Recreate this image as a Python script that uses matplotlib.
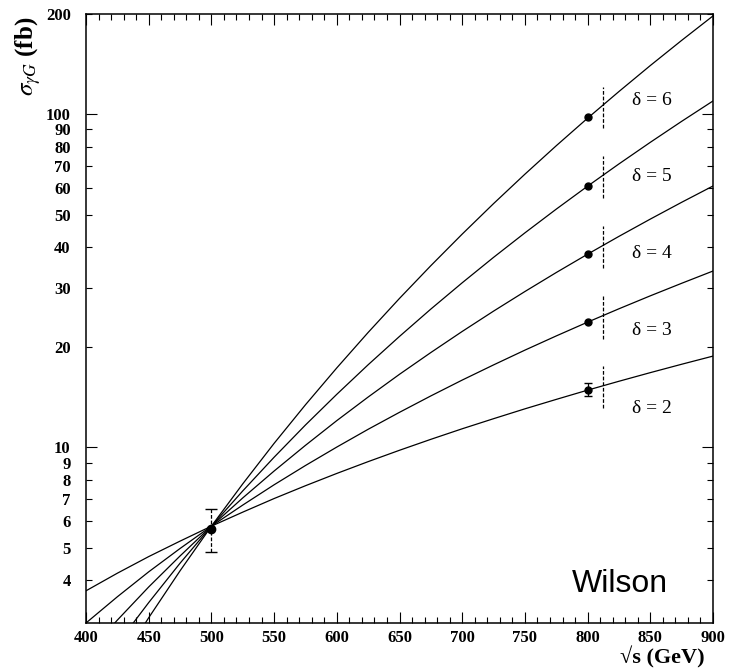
import matplotlib
matplotlib.use('Agg')
import matplotlib.pyplot as plt

plt.rcParams['mathtext.fontset'] = 'stix'

# cross sections (fb) vs sqrt(s) for each delta
sqrt_s = [400, 425, 450, 475, 500, 525, 550, 575, 600, 625, 650,
          675, 700, 725, 750, 775, 800, 825, 850, 875, 900]
sigma_d2 = [3.71, 4.19, 4.70, 5.23, 5.80, 6.39, 7.02, 7.67, 8.35, 9.06, 9.80,
            10.57, 11.37, 12.19, 13.05, 13.93, 14.85, 15.79, 16.76, 17.76, 18.79]
sigma_d3 = [2.97, 3.56, 4.23, 4.97, 5.80, 6.71, 7.72, 8.82, 10.02, 11.33, 12.74,
            14.27, 15.92, 17.68, 19.58, 21.60, 23.76, 26.06, 28.50, 31.08, 33.83]
sigma_d4 = [2.38, 3.03, 3.81, 4.72, 5.80, 7.05, 8.49, 10.14, 12.03, 14.16, 16.57,
            19.26, 22.28, 25.64, 29.36, 33.48, 38.01, 42.99, 48.44, 54.40, 60.89]
sigma_d5 = [1.90, 2.57, 3.42, 4.49, 5.80, 7.40, 9.34, 11.67, 14.43, 17.70, 21.53,
            26.01, 31.19, 37.18, 44.04, 51.89, 60.82, 70.93, 82.35, 95.20, 109.6]
sigma_d6 = [1.52, 2.19, 3.08, 4.26, 5.80, 7.77, 10.28, 13.42, 17.32, 22.13, 28.00,
            35.11, 43.67, 53.91, 66.07, 80.43, 97.31, 117.0, 140.0, 166.6, 197.3]
curves = [sigma_d2, sigma_d3, sigma_d4, sigma_d5, sigma_d6]

# measured points
pt500_x, pt500_y, pt500_err = 500, 5.7, 0.85
pt800_x = 800
pt800_y = [14.9, 23.8, 38.0, 61.0, 98.0]
pt800_err_d2 = 0.65

# bands at 812 GeV
band_x = 812
band_lo = [13.1, 21.2, 34.5, 56.0, 90.7]
band_hi = [17.5, 28.4, 46.1, 74.8, 121]

labels = ['δ = 2', 'δ = 3', 'δ = 4', 'δ = 5', 'δ = 6']
label_y = [13.1, 22.4, 38.3, 65.0, 110]

xticks = [400, 450, 500, 550, 600, 650, 700, 750, 800, 850, 900]
ymajor = [10, 100]
yminor = [4, 5, 6, 7, 8, 9, 20, 30, 40, 50, 60, 70, 80, 90, 200]

serif = ['Liberation Serif', 'DejaVu Serif']

fig = plt.figure(figsize=(7.39, 6.68), dpi=100)
ax = fig.add_axes([0.1164, 0.0674, 0.8484, 0.9117])
ax.set_yscale('log')
ax.set_xlim(400, 900)
ax.set_ylim(2.97, 200)

for c in curves:
    ax.plot(sqrt_s, c, color='black', lw=0.9)

ax.plot([pt800_x] * 4, pt800_y[1:], 'o', color='black', ms=5)
ax.errorbar(pt800_x, pt800_y[0], yerr=pt800_err_d2, fmt='o', color='black',
            ms=5, capsize=3, elinewidth=0.9)
eb = ax.errorbar(pt500_x, pt500_y, yerr=pt500_err, fmt='o', color='black',
                 ms=6, capsize=4, elinewidth=0.9)
eb[2][0].set_linestyle((0, (3, 1.5)))

ax.vlines([band_x] * 5, band_lo, band_hi, colors='black', lw=0.9,
          linestyles=[(0, (3, 1.5))])

for lab, y in zip(labels, label_y):
    ax.text(851, y, lab, ha='center', va='center', fontsize=14, family=serif)

ax.text(0.852, 0.064, 'Wilson', transform=ax.transAxes, fontsize=23,
        family='Liberation Sans', ha='center', va='center')

# ticks
tick_font = dict(family=serif, fontweight='bold', fontsize=12)
ax.set_xticks(xticks)
ax.set_xticks(range(400, 901, 10), minor=True)
ax.set_xticklabels([str(v) for v in xticks], **tick_font)
ax.set_yticks(ymajor)
ax.set_yticklabels([str(v) for v in ymajor], **tick_font)
ax.set_yticks(yminor, minor=True)
ax.set_yticklabels([str(v) for v in yminor], minor=True, **tick_font)
ax.tick_params(which='both', direction='in', top=True, right=True, width=0.8)
ax.tick_params(which='major', length=8)
ax.tick_params(which='minor', length=4)
ax.tick_params(axis='y', which='both', pad=11)
ax.tick_params(axis='x', which='both', pad=5)
for s in ax.spines.values():
    s.set_linewidth(1.1)

fig.text(662 / 739, 1 - 657 / 668, '√s (GeV)', ha='center', va='center',
         fontsize=16, family=serif, fontweight='bold')
fig.text(28 / 739, 1 - 56 / 668, r'$\sigma_{\gamma G}$ (fb)', rotation=90,
         ha='center', va='center', fontsize=18, family=serif, fontweight='bold')

fig.savefig('out.png', dpi=100)
